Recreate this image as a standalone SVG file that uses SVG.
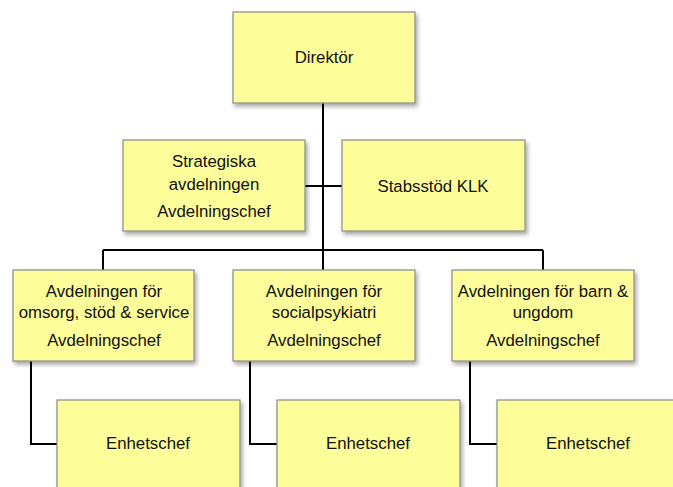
<svg xmlns="http://www.w3.org/2000/svg" width="673" height="487" viewBox="0 0 673 487">
<defs>
<filter id="sh" x="-10%" y="-10%" width="130%" height="130%">
<feDropShadow dx="2" dy="3" stdDeviation="2" flood-color="#000" flood-opacity="0.35"/>
</filter>
<style>
.box{fill:#fdfd9a;stroke:#8a8a8a;stroke-width:1.2;filter:url(#sh)}
.t{font-family:"Liberation Sans",Arial,sans-serif;font-size:16.8px;fill:#111;text-anchor:middle}
.c{fill:none;stroke:#000;stroke-width:2}
</style>
</defs>
<rect width="673" height="487" fill="#fff"/>
<g id="connectors">
<path class="c" d="M323 103V250M305 186H342M103 250H543M103 250V270M323 250V270M543 250V270"/>
<path class="c" d="M31 361V444H57M250 361V444H277M470 361V444H497"/>
</g>
<g id="direktor"><rect class="box" x="233" y="12" width="182" height="91"/><text class="t" x="324" y="63">Direktör</text></g>
<g id="strategiska"><rect class="box" x="123" y="140" width="182" height="91"/><text class="t" x="214" y="167">Strategiska</text><text class="t" x="214" y="190">avdelningen</text><text class="t" x="214" y="217">Avdelningschef</text></g>
<g id="stabsstod"><rect class="box" x="342" y="140" width="183" height="91"/><text class="t" x="433" y="192">Stabsstöd KLK</text></g>
<g id="omsorg"><rect class="box" x="13" y="270" width="181" height="91"/><text class="t" x="104" y="297">Avdelningen för</text><text class="t" x="104" y="318">omsorg, stöd &amp; service</text><text class="t" x="104" y="346">Avdelningschef</text></g>
<g id="socialpsykiatri"><rect class="box" x="233" y="270" width="182" height="91"/><text class="t" x="324" y="297">Avdelningen för</text><text class="t" x="324" y="318">socialpsykiatri</text><text class="t" x="324" y="346">Avdelningschef</text></g>
<g id="barn"><rect class="box" x="452" y="270" width="182" height="91"/><text class="t" x="543" y="297">Avdelningen för barn &amp;</text><text class="t" x="543" y="318">ungdom</text><text class="t" x="543" y="346">Avdelningschef</text></g>
<g id="enhet1"><rect class="box" x="57" y="400" width="183" height="100"/><text class="t" x="148" y="449">Enhetschef</text></g>
<g id="enhet2"><rect class="box" x="277" y="400" width="183" height="100"/><text class="t" x="368" y="449">Enhetschef</text></g>
<g id="enhet3"><rect class="box" x="497" y="400" width="183" height="100"/><text class="t" x="588" y="449">Enhetschef</text></g>
</svg>
